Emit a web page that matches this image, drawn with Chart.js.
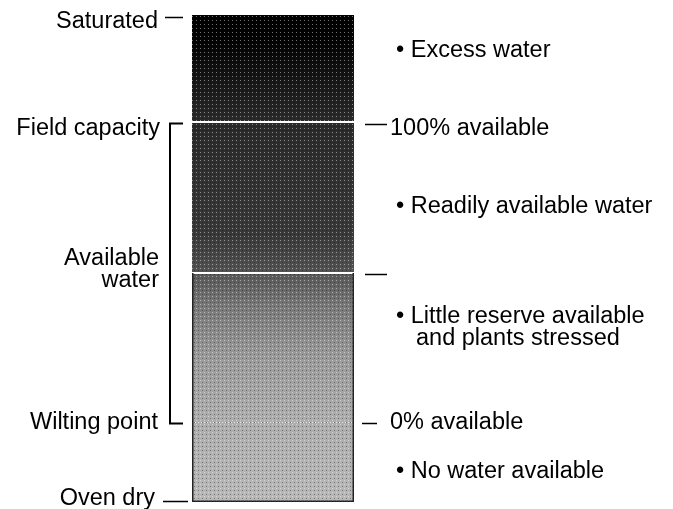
<!DOCTYPE html>
<html><head><meta charset="utf-8">
<script src="https://cdn.jsdelivr.net/npm/chart.js@4/dist/chart.umd.min.js"></script>
<style>html,body{margin:0;padding:0;background:#fff;overflow:hidden}#wrap{width:673px;height:509px}</style>
</head><body><div id="wrap"><canvas id="c" width="673" height="509"></canvas></div>
<script>
// ---- data (soil water content, % of the saturated range, bottom to top) ----
const categories = ['Soil water'];
const zoneNames = ['No water available', 'Little reserve available', 'Readily available water', 'Excess water'];
const zoneValues = [16.5, 30.5, 31, 22];
const boundaryNames = ['Oven dry', 'Wilting point', '', 'Field capacity', 'Saturated'];
const availabilityLabels = ['', '0% available', '', '100% available', ''];
const bracketLabel = ['Available', 'water'];
const zoneNotes = [['• No water available'], ['• Little reserve available', 'and plants stressed'], ['• Readily available water'], ['• Excess water']];
const noteAt = [4.9, 36.8, 59.3, 91.3];

const boundaries = [0];
zoneValues.forEach((v, i) => boundaries.push(boundaries[i] + v));

const FONT = '23.5px "Liberation Sans", Arial, sans-serif';

function makeDots() {
  const p = document.createElement('canvas');
  p.width = 4; p.height = 4;
  const g = p.getContext('2d');
  g.fillStyle = 'rgba(255,255,255,0.45)';
  g.fillRect(0, 0, 1, 1);
  g.fillStyle = 'rgba(0,0,0,0.35)';
  g.fillRect(2, 2, 1, 1);
  return p;
}
const dotCanvas = makeDots();

function fill(ctx) {
  const ca = ctx.chart.chartArea;
  if (!ca) return '#888';
  const g = ctx.chart.ctx.createLinearGradient(0, ca.top, 0, ca.bottom);
  g.addColorStop(0, '#000000');
  g.addColorStop(0.06, '#040404');
  g.addColorStop(0.2, '#262626');
  g.addColorStop(0.22, '#2a2a2a');
  g.addColorStop(0.45, '#383838');
  g.addColorStop(0.53, '#545454');
  g.addColorStop(0.535, '#5a5a5a');
  g.addColorStop(0.6, '#7a7a7a');
  g.addColorStop(0.7, '#9a9a9a');
  g.addColorStop(0.83, '#adadad');
  g.addColorStop(1, '#b8b8b8');
  return g;
}

const decor = {
  id: 'decor',
  afterDatasetsDraw(chart) {
    const { ctx, chartArea: ca, scales: { y } } = chart;
    ctx.save();
    ctx.beginPath();
    ctx.rect(ca.left, ca.top, ca.right - ca.left, ca.bottom - ca.top);
    ctx.clip();
    ctx.fillStyle = ctx.createPattern(dotCanvas, 'repeat');
    ctx.fillRect(ca.left, ca.top, ca.right - ca.left, ca.bottom - ca.top);
    ctx.restore();
    ctx.save();
    // separators
    ctx.fillStyle = '#ffffff';
    [boundaries[3], boundaries[2]].forEach(v => {
      const py = Math.round(y.getPixelForValue(v));
      ctx.fillRect(ca.left, py - 1, ca.right - ca.left, 2);
    });
    const wy = Math.round(y.getPixelForValue(boundaries[1])) + 0.5;
    ctx.strokeStyle = 'rgba(255,255,255,0.8)';
    ctx.lineWidth = 1;
    ctx.setLineDash([1, 2]);
    ctx.beginPath(); ctx.moveTo(ca.left, wy); ctx.lineTo(ca.right, wy); ctx.stroke();
    ctx.setLineDash([]);
    // outline of the lowest zones
    ctx.strokeStyle = '#222';
    ctx.lineWidth = 1.5;
    ctx.beginPath();
    ctx.moveTo(ca.left + 0.75, y.getPixelForValue(boundaries[2]));
    ctx.lineTo(ca.left + 0.75, ca.bottom - 0.75);
    ctx.lineTo(ca.right - 0.75, ca.bottom - 0.75);
    ctx.lineTo(ca.right - 0.75, y.getPixelForValue(boundaries[2]));
    ctx.stroke();
    ctx.restore();
  },
  afterDraw(chart) {
    const { ctx, scales: { y } } = chart;
    const P = v => y.getPixelForValue(v);
    ctx.save();
    ctx.fillStyle = '#000';
    ctx.strokeStyle = '#000';
    ctx.font = FONT;
    ctx.textBaseline = 'alphabetic';
    // left boundary labels
    const leftDy = [3, 7, 0, 13, 13];
    const leftX = [155, 158, 0, 160, 158];
    ctx.textAlign = 'right';
    boundaryNames.forEach((n, i) => {
      if (!n) return;
      ctx.fillText(n, leftX[i], P(boundaries[i]) + leftDy[i]);
    });
    // left dashes (saturated, oven dry)
    ctx.lineWidth = 1.5;
    ctx.beginPath();
    ctx.moveTo(165, P(boundaries[4]) + 2.5); ctx.lineTo(183, P(boundaries[4]) + 2.5);
    ctx.moveTo(163, P(boundaries[0]) - 0.5); ctx.lineTo(188, P(boundaries[0]) - 0.5);
    ctx.stroke();
    // bracket for available water
    const bt = Math.round(P(boundaries[3])) + 1.5, bb = Math.round(P(boundaries[1])) + 1.5;
    ctx.lineWidth = 2;
    ctx.beginPath();
    ctx.moveTo(183, bt); ctx.lineTo(170, bt); ctx.lineTo(170, bb); ctx.lineTo(183, bb);
    ctx.stroke();
    const mid = (bt + bb) / 2;
    ctx.fillText(bracketLabel[0], 159, mid - 8.5);
    ctx.fillText(bracketLabel[1], 159, mid + 13.5);
    // right availability labels with dashes
    ctx.textAlign = 'left';
    ctx.lineWidth = 1.5;
    availabilityLabels.forEach((t, i) => {
      if (i === 0 || i === 4) return;
      const py = Math.round(P(boundaries[i]));
      const x0 = i === 1 ? 362 : 365, x1 = i === 1 ? 377 : 387;
      const dy = i === 3 ? 2.5 : 1.5;
      ctx.beginPath(); ctx.moveTo(x0, py + dy); ctx.lineTo(x1, py + dy); ctx.stroke();
      if (t) ctx.fillText(t, 390, py + (i === 3 ? 13 : 7));
    });
    // zone notes
    zoneNotes.forEach((lines, i) => {
      const by = P(noteAt[i]);
      lines.forEach((l, k) => {
        ctx.fillText(l, k === 0 ? 396 : 416, by + k * 22);
      });
    });
    ctx.restore();
  }
};

new Chart(document.getElementById('c'), {
  type: 'bar',
  data: {
    labels: categories,
    datasets: zoneNames.map((n, i) => ({
      label: n,
      data: [zoneValues[i]],
      backgroundColor: fill,
      borderWidth: 0,
      barPercentage: 1,
      categoryPercentage: 1
    }))
  },
  options: {
    responsive: false,
    animation: false,
    layout: { padding: { left: 192, right: 319, top: 15, bottom: 7 } },
    scales: {
      x: { stacked: true, display: false },
      y: { stacked: true, display: false, min: 0, max: 100 }
    },
    plugins: { legend: { display: false }, tooltip: { enabled: false } }
  },
  plugins: [decor]
});
</script>
</body></html>
